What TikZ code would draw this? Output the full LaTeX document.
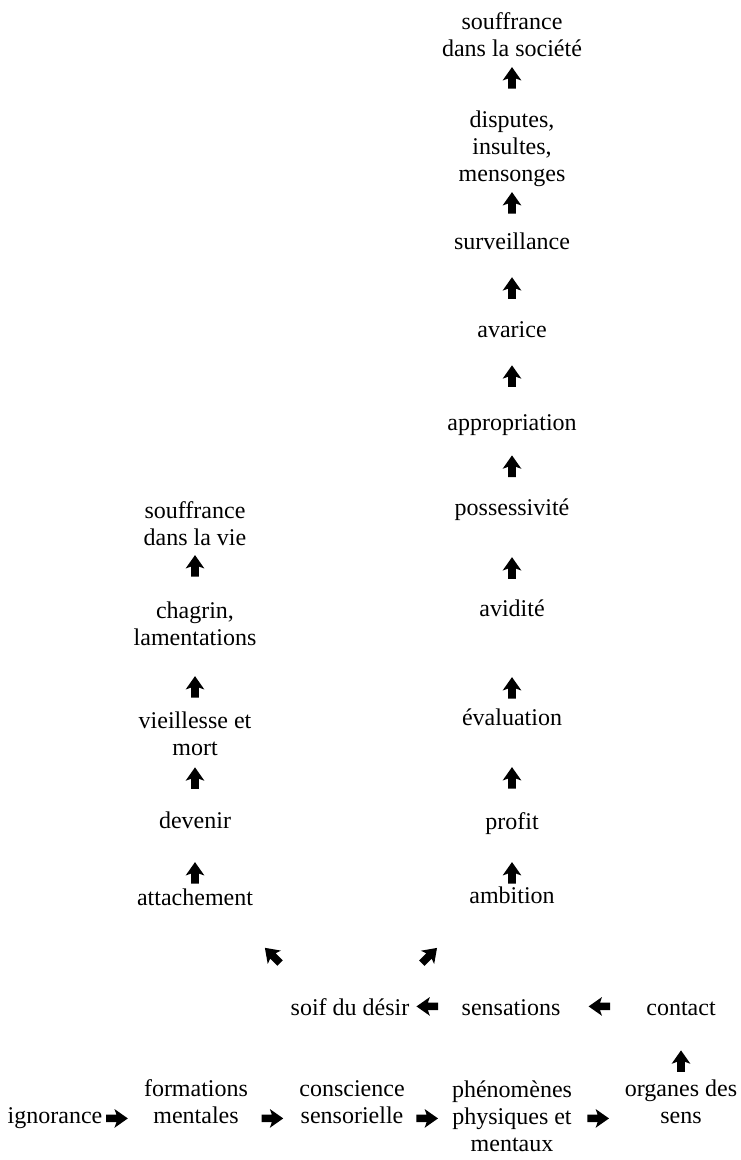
\documentclass[tikz,border=0pt]{standalone}
\usepackage{fontspec}
\setmainfont{Liberation Serif}
\usetikzlibrary{decorations.markings}

\tikzset{
  glyph turn/.store in=\glyphturn, glyph turn=0,
  etape/.style={anchor=base, align=center, inner sep=0pt,
                font=\fontsize{12pt}{13.5pt}\selectfont},
  % fleche pleine posee au milieu du lien
  lien/.style={postaction=decorate, decoration={markings,
      mark=at position #1 with {
        \fill[rotate=\glyphturn] (5.4pt,0) -- (-1.3pt,4.7pt) -- (-0.3pt,1.9pt)
          -- (-5.4pt,1.9pt) -- (-5.4pt,-1.9pt) -- (-0.3pt,-1.9pt)
          -- (-1.3pt,-4.7pt) -- cycle;}}},
}

\begin{document}
\begin{tikzpicture}[x=0.5pt, y=-0.5pt]
  \useasboundingbox (0,0) rectangle (740,1160);
  % Rangee du bas
  \node[etape] (ign) at (55,1123) {ignorance};
  \node[etape] (form) at (196,1123) {formations\\mentales};
  \node[etape] (consc) at (352,1123) {conscience\\sensorielle};
  \node[etape] (phen) at (512,1151) {phénomènes\\physiques et\\mentaux};
  \node[etape] (org) at (681,1123) {organes des\\sens};
  % Rangee du milieu
  \node[etape] (contact) at (681,1015) {contact};
  \node[etape] (sens) at (511,1015) {sensations};
  \node[etape] (soif) at (350,1015) {soif du désir};
  % Colonne de gauche
  \node[etape] (attach) at (195,905) {attachement};
  \node[etape] (devenir) at (195,828) {devenir};
  \node[etape] (vieil) at (195,755) {vieillesse et\\mort};
  \node[etape] (chagrin) at (195,645) {chagrin,\\lamentations};
  \node[etape] (souffvie) at (195,545) {souffrance\\dans la vie};
  % Colonne de droite
  \node[etape] (ambition) at (512,903) {ambition};
  \node[etape] (profit) at (512,829) {profit};
  \node[etape] (eval) at (512,725) {évaluation};
  \node[etape] (avidite) at (512,616) {avidité};
  \node[etape] (possess) at (512,515) {possessivité};
  \node[etape] (appro) at (512,430) {appropriation};
  \node[etape] (avarice) at (512,337) {avarice};
  \node[etape] (surveil) at (512,250) {surveillance};
  \node[etape] (disputes) at (512,182) {disputes,\\insultes,\\mensonges};
  \node[etape] (souffsoc) at (512,57) {souffrance\\dans la société};

  % Liens du bas
  \path[lien=0.44] (ign.mid) -- (ign.mid -| form.mid);
  \path[lien=0.49] (ign.mid -| form.mid) -- (ign.mid -| consc.mid);
  \path[lien=0.47] (ign.mid -| consc.mid) -- (ign.mid -| phen.mid);
  \path[lien=0.51] (ign.mid -| phen.mid) -- (ign.mid -| org.mid);
  \path[lien=0.53] (org.mid) -- (contact.mid);
  \path[lien=0.48] ([yshift=2pt]contact.mid) -- ([yshift=2pt]sens.mid);
  \path[lien=0.52] ([yshift=2pt]sens.mid) -- ([yshift=2pt]soif.mid);
  % Les deux branches
  \path[glyph turn=-9.6, lien=0.5] (soif.mid) -- (attach.mid);
  \path[glyph turn=10.3, lien=0.49] (soif.mid) -- (ambition.mid);
  \path[lien=0.357] (attach.mid) -- (devenir.mid);
  \path[lien=0.62] (devenir.mid) -- (vieil.mid);
  \path[lien=0.577] (vieil.mid) -- (chagrin.mid);
  \path[lien=0.745] (chagrin.mid) -- (souffvie.mid);
  \path[lien=0.345] (ambition.mid) -- (profit.mid);
  \path[lien=0.447] (profit.mid) -- (eval.mid);
  \path[lien=0.298] (eval.mid) -- (avidite.mid);
  \path[lien=0.43] (avidite.mid) -- (possess.mid);
  \path[lien=0.52] (possess.mid) -- (appro.mid);
  \path[lien=0.53] (appro.mid) -- (avarice.mid);
  \path[lien=0.51] (avarice.mid) -- (surveil.mid);
  \path[lien=0.625] (surveil.mid) -- (disputes.mid);
  \path[lien=0.796] (disputes.mid) -- (souffsoc.mid);
\end{tikzpicture}
\end{document}
